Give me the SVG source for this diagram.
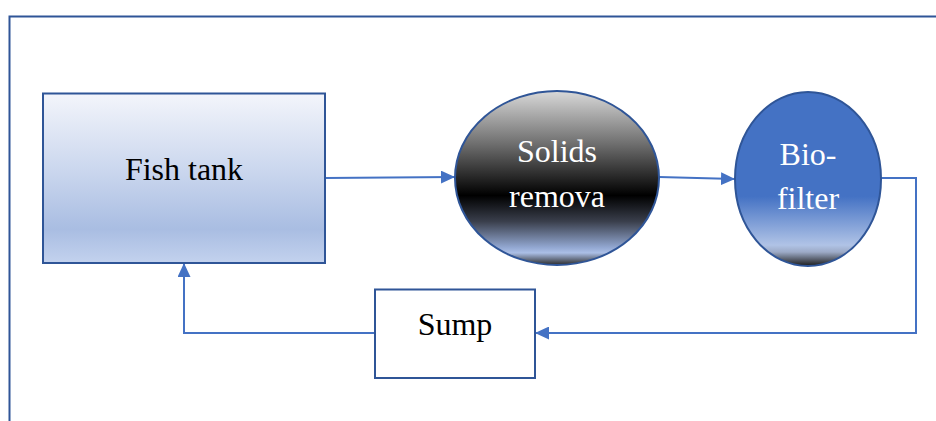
<svg xmlns="http://www.w3.org/2000/svg" width="936" height="421" viewBox="0 0 936 421">
<style>
.node{stroke:#2F5597;stroke-width:2}
.conn{fill:none;stroke:#4472C4;stroke-width:2}
.t{font-family:"Liberation Serif","Times New Roman","DejaVu Serif",serif;font-size:32px;text-anchor:middle}
</style>
<defs>
<linearGradient id="gTank" x1="0" y1="0" x2="0" y2="1">
<stop offset="0" stop-color="#F3F5FB"/>
<stop offset="0.45" stop-color="#CBD7EE"/>
<stop offset="0.8" stop-color="#A9BDE2"/>
<stop offset="1" stop-color="#C3D2EE"/>
</linearGradient>
<linearGradient id="gSolids" x1="0" y1="0" x2="0" y2="1">
<stop offset="0" stop-color="#D9D9D9"/>
<stop offset="0.3" stop-color="#707070"/>
<stop offset="0.6" stop-color="#000000"/>
<stop offset="0.75" stop-color="#3A3F4C"/>
<stop offset="0.9" stop-color="#93A8D2"/>
<stop offset="0.93" stop-color="#ABBFE6"/>
<stop offset="1" stop-color="#2A2A2A"/>
</linearGradient>
<linearGradient id="gBio" x1="0" y1="0" x2="0" y2="1">
<stop offset="0" stop-color="#4472C4"/>
<stop offset="0.6" stop-color="#4472C4"/>
<stop offset="0.88" stop-color="#B0C3E6"/>
<stop offset="0.92" stop-color="#9CAAC6"/>
<stop offset="1" stop-color="#1A1A1A"/>
</linearGradient>
<marker id="arrow" viewBox="0 0 10 10" refX="10" refY="5" markerWidth="14" markerHeight="13" markerUnits="userSpaceOnUse" orient="auto" preserveAspectRatio="none">
<path d="M0,0 L10,5 L0,10 z" fill="#4472C4"/>
</marker>
</defs>
<g id="frame">
<path d="M9.5,421 V16.5 H936" fill="none" stroke="#2F5597" stroke-width="2"/>
</g>
<g id="connectors">
<path class="conn" d="M325,178 L455,177" marker-end="url(#arrow)"/>
<path class="conn" d="M659,177 L735,179" marker-end="url(#arrow)"/>
<path class="conn" d="M881,178 H916 V333 H535" marker-end="url(#arrow)"/>
<path class="conn" d="M375,333 H184 V263" marker-end="url(#arrow)"/>
</g>
<g id="fish-tank">
<rect class="node" x="43" y="93.5" width="282" height="169.5" fill="url(#gTank)"/>
<text class="t" x="184" y="180">Fish tank</text>
</g>
<g id="solids-removal">
<ellipse class="node" cx="557" cy="178" rx="102" ry="87" fill="url(#gSolids)"/>
<text class="t" x="557" y="162" fill="#FFFFFF">Solids</text>
<text class="t" x="557" y="207" fill="#FFFFFF">remova</text>
</g>
<g id="bio-filter">
<ellipse class="node" cx="808" cy="179" rx="73" ry="87" fill="url(#gBio)"/>
<text class="t" x="808" y="165" fill="#FFFFFF">Bio-</text>
<text class="t" x="808" y="209" fill="#FFFFFF">filter</text>
</g>
<g id="sump">
<rect class="node" x="375" y="289.5" width="160" height="88.5" fill="#FFFFFF"/>
<text class="t" x="455" y="335" fill="#000000">Sump</text>
</g>
</svg>
